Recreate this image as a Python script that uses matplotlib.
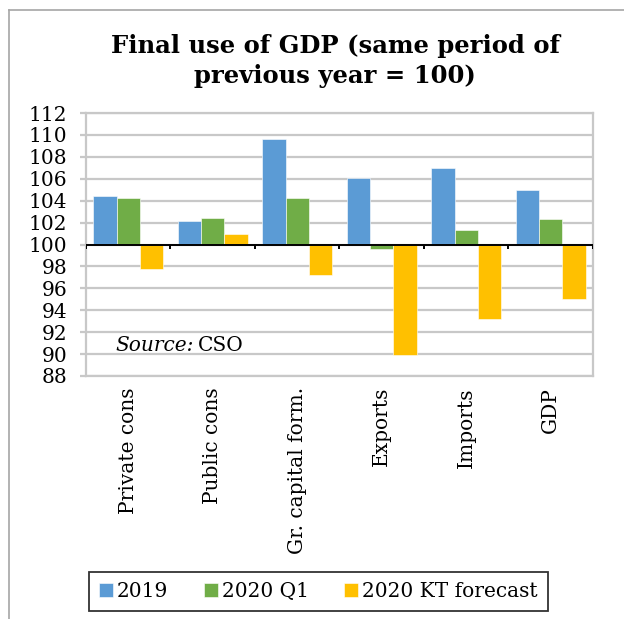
import matplotlib
matplotlib.use("Agg")
import matplotlib.pyplot as plt
import numpy as np

categories = ["Private cons", "Public cons", "Gr. capital form.", "Exports", "Imports", "GDP"]
series_names = ["2019", "2020 Q1", "2020 KT forecast"]
v2019 = [104.4, 102.1, 109.6, 106.1, 107.0, 105.0]
v2020q1 = [104.25, 102.45, 104.25, 99.6, 101.35, 102.3]
v2020kt = [97.75, 101.0, 97.2, 89.9, 93.2, 95.0]
colors = ["#5B9BD5", "#70AD47", "#FFC000"]
yticks = list(range(88, 113, 2))

plt.rcParams['font.family'] = ['DejaVu Serif']
fs = 14.5

fig = plt.figure(figsize=(6.24, 6.19), dpi=100)

# outer frame (cut off on the right and bottom like the screenshot)
fig.add_artist(plt.Line2D([0.015, 0.015], [0.0, 0.984], color="#A6A6A6", lw=1.2))
fig.add_artist(plt.Line2D([0.015, 1.0], [0.984, 0.984], color="#A6A6A6", lw=1.2))

ax = fig.add_axes([0.1378, 0.3926, 0.8125, 0.4248])

x = np.arange(len(categories))
w = 0.275
base = 100
for i, (vals, c, name) in enumerate(zip([v2019, v2020q1, v2020kt], colors, series_names)):
    heights = np.array(vals) - base
    ax.bar(x + (i - 1) * w, heights, w, bottom=base, color=c, label=name,
           edgecolor="white", linewidth=0.4, zorder=3)

ax.set_ylim(88, 112)
ax.set_xlim(-0.5, len(categories) - 0.5)
ax.set_yticks(yticks)
ax.set_yticklabels([str(t) for t in yticks], fontsize=fs)
ax.tick_params(axis="y", length=4.5, width=1.6, color="#C8C8C8", pad=9)
ax.grid(axis="y", color="#C8C8C8", lw=1.6, zorder=0)
for s in ax.spines.values():
    s.set_color("#C8C8C8")
    s.set_linewidth(1.6)

# category axis crossing at 100
ax.axhline(100, color="black", lw=1.4, zorder=4)
ax.vlines(np.arange(len(categories) + 1) - 0.5, 99.55, 100, color="black", lw=1.4, zorder=4)
ax.set_xticks(x)
ax.set_xticklabels(categories, rotation=90, fontsize=fs, va="top")
ax.tick_params(axis="x", length=0, pad=8)

src = ax.text(-0.15, 90.25, "Source:", fontsize=fs, style="italic", ha="left", va="baseline")
ax.annotate("CSO", xy=(1, 0), xycoords=src, xytext=(3, 0), textcoords="offset points",
            fontsize=fs, ha="left", va="bottom")

fig.text(0.537, 0.901, "Final use of GDP (same period of\nprevious year = 100)",
         ha="center", va="center", fontsize=17.5, fontweight="bold", linespacing=1.3)

leg = fig.legend(loc="center", bbox_to_anchor=(0.51, 0.045), ncol=3, fontsize=fs,
                 frameon=True, fancybox=False, handlelength=0.7, handleheight=0.7,
                 handletextpad=0.2, columnspacing=1.75, borderpad=0.5, borderaxespad=0)
leg.get_frame().set_edgecolor("black")
leg.get_frame().set_linewidth(1.3)

fig.savefig("out.png", dpi=100)
